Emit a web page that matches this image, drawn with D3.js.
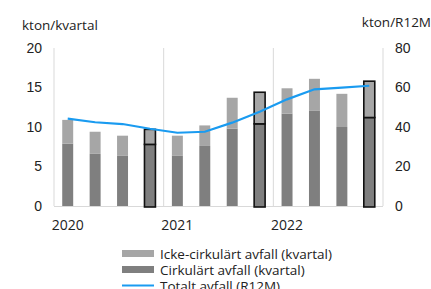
<!DOCTYPE html>
<html><head><meta charset="utf-8">
<script src="https://cdn.jsdelivr.net/npm/d3@7"></script>
<style>body{margin:0;background:#fff}svg{display:block;font-family:"Open Sans","Liberation Sans",Arial,sans-serif}</style>
</head><body><svg id="c" width="431" height="289"></svg>
<script>
const quarters = ["2020Q1","2020Q2","2020Q3","2020Q4","2021Q1","2021Q2","2021Q3","2021Q4","2022Q1","2022Q2","2022Q3","2022Q4"];
const circular = [7.9,6.6,6.4,7.8,6.4,7.6,9.8,10.4,11.7,12.1,10.0,11.2];
const nonCircular = [3.0,2.8,2.5,1.9,2.5,2.6,3.9,4.0,3.2,4.0,4.2,4.6];
const totalR12M = [44.2,42.4,41.5,39.1,37.1,37.6,42.2,47.7,54.0,59.1,59.9,60.9];
const yearLabels = ["2020","2021","2022"];
const leftTicks = [0,5,10,15,20];
const rightTicks = [0,20,40,60,80];
const outlined = [3,7,11];

const svg = d3.select("#c");
const L=54, R=383, T=48, B=206;
const x = d3.scaleBand().domain(quarters).range([L,R]).paddingInner(0.6).paddingOuter(0.3);
const xs = d3.scaleBand().domain(quarters).range([L,R]);
const yL = d3.scaleLinear().domain([0,20]).range([B,T]);
const yR = d3.scaleLinear().domain([0,80]).range([B,T]);

const bounds = [0,4,8,12].map(i => L + i*xs.step());
svg.selectAll(".vg").data(bounds).join("line")
  .attr("x1",d=>d).attr("x2",d=>d).attr("y1",T).attr("y2",B)
  .attr("stroke","#d9d9d9").attr("stroke-width",1);
svg.append("line").attr("x1",L).attr("x2",R).attr("y1",B+0.5).attr("y2",B+0.5).attr("stroke","#d9d9d9");

const g = svg.append("g");
quarters.forEach((q,i)=>{
  const isO = outlined.includes(i);
  const bx = x(q), bw = x.bandwidth();
  g.append("rect").attr("x",bx).attr("width",bw)
    .attr("y",yL(circular[i])).attr("height",yL(0)-yL(circular[i]) + (isO?1:0))
    .attr("fill","#7f7f7f").attr("stroke",isO?"#111":"none").attr("stroke-width",1.6);
  g.append("rect").attr("x",bx).attr("width",bw)
    .attr("y",yL(circular[i]+nonCircular[i])).attr("height",yL(circular[i])-yL(circular[i]+nonCircular[i]))
    .attr("fill","#a6a6a6").attr("stroke",isO?"#111":"none").attr("stroke-width",1.6);
});

const line = d3.line().x((d,i)=>x(quarters[i])+x.bandwidth()/2).y(d=>yR(d));
svg.append("path").datum(totalR12M).attr("d",line).attr("fill","none")
  .attr("stroke","#1a9bf0").attr("stroke-width",2.2);

const fs = 14;
const la = svg.append("g").attr("transform",`translate(${L-12},0)`)
  .call(d3.axisLeft(yL).tickValues(leftTicks).tickSize(0).tickPadding(0));
la.select(".domain").remove();
la.selectAll("text").attr("font-size",fs).attr("fill","#222").attr("font-family","inherit");
const ra = svg.append("g").attr("transform",`translate(${R+12},0)`)
  .call(d3.axisRight(yR).tickValues(rightTicks).tickSize(0).tickPadding(0));
ra.select(".domain").remove();
ra.selectAll("text").attr("font-size",fs).attr("fill","#222").attr("font-family","inherit");

svg.selectAll(".yr").data(yearLabels).join("text")
  .attr("x",(d,i)=>x(quarters[i*4])+x.bandwidth()/2).attr("y",230)
  .attr("text-anchor","middle").attr("font-size",fs).attr("fill","#222").text(d=>d);

svg.append("text").attr("x",22).attr("y",30).attr("font-size",13.5).attr("fill","#222").text("kton/kvartal");
svg.append("text").attr("x",431).attr("y",27).attr("text-anchor","end").attr("font-size",13.5).attr("fill","#222").text("kton/R12M");

const legend = [
  {label:"Icke-cirkulärt avfall (kvartal)", type:"rect", color:"#a6a6a6"},
  {label:"Cirkulärt avfall (kvartal)", type:"rect", color:"#7f7f7f"},
  {label:"Totalt avfall (R12M)", type:"line", color:"#1a9bf0"}
];
legend.forEach((d,i)=>{
  const cy = 253.5 + i*16;
  if(d.type==="rect") svg.append("rect").attr("x",122).attr("y",cy-3.5).attr("width",32).attr("height",7).attr("fill",d.color);
  else svg.append("line").attr("x1",122).attr("x2",154).attr("y1",cy).attr("y2",cy).attr("stroke",d.color).attr("stroke-width",2);
  svg.append("text").attr("x",160).attr("y",cy+5).attr("font-size",13.5).attr("fill","#222").text(d.label);
});
</script></body></html>
